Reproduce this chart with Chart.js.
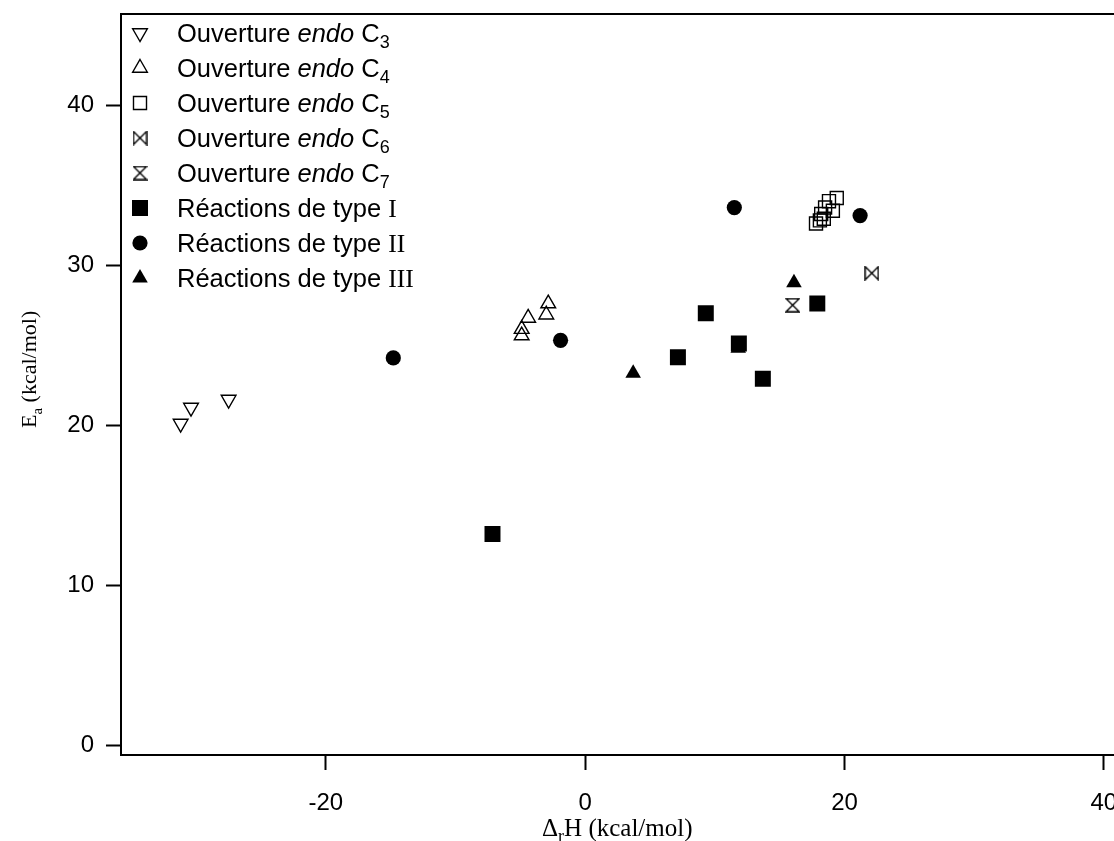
<!DOCTYPE html>
<html>
<head>
<meta charset="utf-8">
<title>Ea vs ΔrH</title>
<script src="https://cdn.jsdelivr.net/npm/chart.js@4.4.1/dist/chart.umd.min.js"></script>
<style>
    html, body { margin: 0; padding: 0; background: #fff; overflow: hidden; }
    #wrap { position: relative; width: 1180px; height: 841px; }
</style>
</head>
<body>
<div id="wrap"><canvas id="chart" width="1180" height="841"></canvas></div>
<script>
// ===== Data (ΔrH, Ea en kcal/mol) =====
const endoC3X = [-31.2, -30.4, -27.5];
const endoC3Y = [20.1, 21.1, 21.6];

const endoC4X = [-4.9, -4.9, -4.4, -3.0, -2.85];
const endoC4Y = [25.6, 26.0, 26.7, 26.9, 27.6];

const endoC5X = [17.8, 18.1, 18.4, 18.2, 18.5, 19.1, 18.8, 19.4];
const endoC5Y = [32.6, 32.8, 32.9, 33.2, 33.6, 33.4, 34.0, 34.2];

const endoC6X = [22.1];
const endoC6Y = [29.5];

const endoC7X = [16.0];
const endoC7Y = [27.5];

const type1X = [-7.15, 7.15, 9.3, 11.85, 13.7, 17.9];
const type1Y = [13.2, 24.25, 27.0, 25.1, 22.9, 27.6];

const type2X = [-14.8, -1.9, 11.5, 21.2];
const type2Y = [24.2, 25.3, 33.6, 33.1];

const type3X = [3.7, 11.8, 16.1];
const type3Y = [23.25, 24.8, 28.9];

const xTicks = [-20, 0, 20, 40];
const yTicks = [0, 10, 20, 30, 40];

const SANS = '"Liberation Sans", Arial, Helvetica, sans-serif';
const SERIF = '"Liberation Serif", "Times New Roman", serif';

const pts = (xs, ys) => xs.map((x, i) => ({ x, y: ys[i] }));

// marqueurs ⋈ et ⧖ dessinés à la main
function makeTie(vertical) {
    const c = document.createElement('canvas');
    c.width = 15; c.height = 15;
    const g = c.getContext('2d');
    g.strokeStyle = '#000';
    g.lineWidth = 1.4;
    const a = 1, b = 14;
    g.beginPath();
    if (!vertical) {
        g.moveTo(a, a); g.lineTo(b, b); g.lineTo(b, a); g.lineTo(a, b); g.closePath();
    } else {
        g.moveTo(a, a); g.lineTo(b, b); g.lineTo(a, b); g.lineTo(b, a); g.closePath();
    }
    g.stroke();
    return c;
}
const bowtie = makeTie(false);
const hourglass = makeTie(true);

const NONE = 'rgba(0,0,0,0)';

// runs: [texte, famille, style ('', 'italic', 'sub')]
const series = [
    { runs: [['Ouverture ', SANS], ['endo', SANS, 'italic'], [' C', SANS], ['3', SANS, 'sub']],
      xs: endoC3X, ys: endoC3Y, style: 'triangle', r: 8.5, rot: 180, fill: NONE, bw: 1.4 },
    { runs: [['Ouverture ', SANS], ['endo', SANS, 'italic'], [' C', SANS], ['4', SANS, 'sub']],
      xs: endoC4X, ys: endoC4Y, style: 'triangle', r: 8.5, rot: 0, fill: NONE, bw: 1.4 },
    { runs: [['Ouverture ', SANS], ['endo', SANS, 'italic'], [' C', SANS], ['5', SANS, 'sub']],
      xs: endoC5X, ys: endoC5Y, style: 'rect', r: 9.2, rot: 0, fill: NONE, bw: 1.4 },
    { runs: [['Ouverture ', SANS], ['endo', SANS, 'italic'], [' C', SANS], ['6', SANS, 'sub']],
      xs: endoC6X, ys: endoC6Y, style: bowtie, r: 8, rot: 0, fill: NONE, bw: 0 },
    { runs: [['Ouverture ', SANS], ['endo', SANS, 'italic'], [' C', SANS], ['7', SANS, 'sub']],
      xs: endoC7X, ys: endoC7Y, style: hourglass, r: 8, rot: 0, fill: NONE, bw: 0 },
    { runs: [['Réactions de type ', SANS], ['I', SERIF]],
      xs: type1X, ys: type1Y, style: 'rect', r: 11.3, rot: 0, fill: '#000', bw: 0 },
    { runs: [['Réactions de type ', SANS], ['II', SERIF]],
      xs: type2X, ys: type2Y, style: 'circle', r: 7.6, rot: 0, fill: '#000', bw: 0 },
    { runs: [['Réactions de type ', SANS], ['III', SERIF]],
      xs: type3X, ys: type3Y, style: 'triangle', r: 9, rot: 0, fill: '#000', bw: 0 }
];

const datasets = series.map(s => ({
    data: pts(s.xs, s.ys),
    pointStyle: s.style,
    pointRadius: s.r,
    pointRotation: s.rot,
    pointBackgroundColor: s.fill,
    pointBorderColor: '#000',
    pointBorderWidth: s.bw,
    showLine: false
}));

function drawRuns(ctx, runs, x, y, size) {
    ctx.textBaseline = 'alphabetic';
    ctx.textAlign = 'left';
    for (const [txt, fam, kind] of runs) {
        const isSub = kind === 'sub';
        const fs = isSub ? Math.round(size * 0.7) : size;
        ctx.font = (kind === 'italic' ? 'italic ' : '') + fs + 'px ' + fam;
        ctx.fillText(txt, x, isSub ? y + 6 : y);
        x += ctx.measureText(txt).width;
    }
}

// cadre, légende et titres des axes
const decorPlugin = {
    id: 'decor',
    afterDraw(chart) {
        const { ctx, chartArea: a } = chart;
        ctx.save();
        ctx.strokeStyle = '#000';
        ctx.lineWidth = 2;
        ctx.beginPath();
        ctx.moveTo(a.left - 1, a.top);
        ctx.lineTo(a.right, a.top);
        ctx.lineTo(a.right, a.bottom);
        ctx.stroke();

        // légende
        const drawPoint = Chart.helpers && Chart.helpers.drawPoint;
        series.forEach((s, i) => {
            const base = 42 + i * 35;
            if (drawPoint) {
                ctx.save();
                ctx.fillStyle = s.fill;
                ctx.strokeStyle = '#000';
                ctx.lineWidth = s.bw;
                drawPoint(ctx, { pointStyle: s.style, radius: s.r, rotation: s.rot, borderWidth: s.bw }, 140, base - 9);
                ctx.restore();
            }
            ctx.fillStyle = '#000';
            drawRuns(ctx, s.runs, 177, base, 25.5);
        });

        // titre axe x : ΔrH (kcal/mol)
        drawRuns(ctx, [['Δ', SERIF], ['r', SERIF, 'sub'], ['H (kcal/mol)', SERIF]], 542, 836, 25);

        // titre axe y : Ea (kcal/mol)
        ctx.save();
        ctx.translate(36, 428);
        ctx.rotate(-Math.PI / 2);
        drawRuns(ctx, [['E', SERIF], ['a', SERIF, 'sub'], [' (kcal/mol)', SERIF]], 0, 0, 22);
        ctx.restore();
        ctx.restore();
    }
};

const axisCommon = {
    type: 'linear',
    border: { display: true, color: '#000', width: 2 },
    grid: { drawOnChartArea: false, drawTicks: true, tickLength: 15, tickColor: '#000', tickWidth: 2 },
};

new Chart(document.getElementById('chart'), {
    type: 'scatter',
    data: { datasets },
    options: {
        responsive: false,
        animation: false,
        events: [],
        layout: { padding: { top: 14, right: 8, left: 0, bottom: 0 } },
        plugins: { legend: { display: false }, tooltip: { enabled: false } },
        scales: {
            x: {
                ...axisCommon,
                min: -35.8, max: 45,
                afterBuildTicks: s => { s.ticks = xTicks.map(v => ({ value: v })); },
                afterFit: s => { s.height = 86; s.paddingLeft = 0; s.paddingRight = 0; },
                ticks: { color: '#000', padding: 19, maxRotation: 0, autoSkip: false,
                    font: { family: SANS, size: 24 }, callback: v => String(v) }
            },
            y: {
                ...axisCommon,
                min: -0.62, max: 45.7,
                afterBuildTicks: s => { s.ticks = yTicks.map(v => ({ value: v })); },
                afterFit: s => { s.width = 121; s.paddingTop = 0; s.paddingBottom = 0; },
                ticks: { color: '#000', padding: 12, autoSkip: false,
                    font: { family: SANS, size: 24 }, callback: v => String(v) }
            }
        }
    },
    plugins: [decorPlugin]
});
</script>
</body>
</html>
